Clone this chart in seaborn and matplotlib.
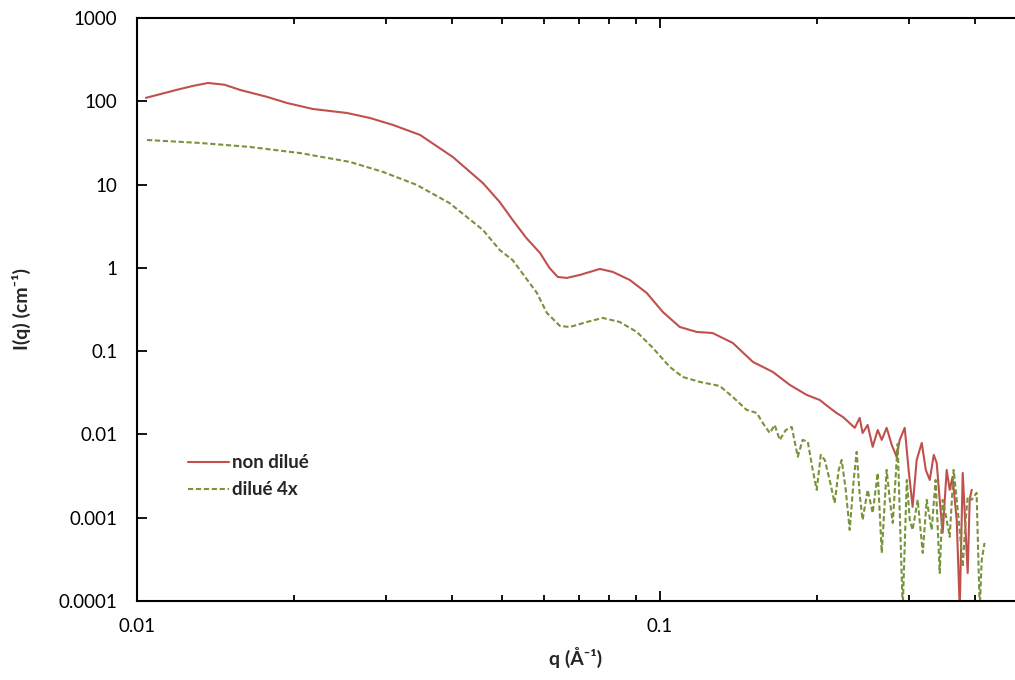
import numpy as np
import pandas as pd
import seaborn as sns
import matplotlib.pyplot as plt
from matplotlib.ticker import FixedLocator, FuncFormatter, NullLocator, NullFormatter

# non dilué (q in 1/A, I in 1/cm)
q_red = [0.0104, 0.0112, 0.0119, 0.0128, 0.01367, 0.0147, 0.01574, 0.01773, 0.01935, 0.0217,
         0.0252, 0.0279, 0.0309, 0.0348, 0.0402, 0.0459, 0.0494, 0.0523, 0.0555, 0.0590,
         0.0615, 0.0638, 0.0664, 0.0703, 0.0768, 0.0813, 0.0876, 0.0944, 0.1013, 0.1092,
         0.1177, 0.1262, 0.1379, 0.1507, 0.1645, 0.1773, 0.191, 0.2023, 0.2100, 0.2178,
         0.2240, 0.2307, 0.236, 0.2412, 0.2443, 0.2498, 0.2554, 0.2611, 0.2658, 0.2716,
         0.2777, 0.2838, 0.2877, 0.2941, 0.2992, 0.3045, 0.3100, 0.3170, 0.3227, 0.3284,
         0.3342, 0.3386, 0.3431, 0.3476, 0.3538, 0.3585, 0.3631, 0.3698, 0.3747, 0.3797,
         0.3881, 0.3915, 0.395]
I_red = [110, 124, 137, 153, 166, 158, 137, 113, 95.5, 80.8,
         72.4, 63, 51.9, 39.4, 21.4, 10.4, 6.18, 3.76, 2.3, 1.51,
         1.0, 0.778, 0.757, 0.822, 0.97, 0.894, 0.716, 0.50, 0.296, 0.195,
         0.170, 0.165, 0.1254, 0.0742, 0.0563, 0.0393, 0.0298, 0.0259, 0.0215, 0.0181,
         0.0162, 0.0137, 0.0120, 0.0158, 0.0104, 0.0130, 0.0071, 0.0113, 0.0086, 0.0120,
         0.0075, 0.0054, 0.0086, 0.0120, 0.00375, 0.00135, 0.00494, 0.0079, 0.00375, 0.00284,
         0.00568, 0.00455, 0.00164, 0.00066, 0.00375, 0.00216, 0.0031, 0.00094, 0.00008, 0.00345,
         0.000217, 0.00164, 0.00216]

# dilué 4x
q_green = [0.01045, 0.0132, 0.01644, 0.0205, 0.02555, 0.02954, 0.0343, 0.0396, 0.0459, 0.0494,
           0.0523, 0.0582, 0.0608, 0.0644, 0.0673, 0.0725, 0.0778, 0.0838, 0.0904, 0.0970,
           0.1045, 0.1106, 0.1193, 0.1302, 0.1379, 0.1466, 0.1533, 0.1574, 0.1623, 0.1659,
           0.1696, 0.1742, 0.1788, 0.1836, 0.1876, 0.1919, 0.1961, 0.1996, 0.2032, 0.2068,
           0.2113, 0.2160, 0.2199, 0.2228, 0.2268, 0.2308, 0.2349, 0.2380, 0.2412, 0.2443,
           0.2498, 0.2554, 0.2611, 0.2658, 0.2716, 0.2754, 0.2790, 0.2851, 0.2915, 0.2968,
           0.3007, 0.3045, 0.3114, 0.3184, 0.3240, 0.3311, 0.3370, 0.3431, 0.3476, 0.3538,
           0.3585, 0.3648, 0.3698, 0.3747, 0.3797, 0.3846, 0.3881, 0.3950, 0.4036, 0.4092,
           0.4128, 0.4180]
I_green = [34.3, 31.6, 28.3, 23.9, 18.7, 14.2, 9.89, 6.0, 2.85, 1.64,
           1.24, 0.50, 0.288, 0.2007, 0.195, 0.224, 0.2504, 0.224, 0.170, 0.1093,
           0.0646, 0.049, 0.0427, 0.0382, 0.0282, 0.0197, 0.0181, 0.0137, 0.0104, 0.0130,
           0.0086, 0.0113, 0.0123, 0.0054, 0.0086, 0.00817, 0.00375, 0.00216, 0.00568, 0.00494,
           0.00284, 0.0015, 0.00375, 0.00494, 0.00216, 0.000714, 0.00284, 0.00617, 0.00188, 0.00094,
           0.00216, 0.00114, 0.00345, 0.000378, 0.00375, 0.00164, 0.000866, 0.0077, 0.00008, 0.00284,
           0.00094, 0.000714, 0.00164, 0.000378, 0.00164, 0.000714, 0.00284, 0.000217, 0.00164, 0.00094,
           0.000589, 0.00375, 0.00164, 0.000714, 0.000256, 0.00094, 0.00178, 0.00164, 0.00199, 0.00008,
           0.000311, 0.000498]

labels = ['non dilué', 'dilué 4x']
colors = ['#C0504D', '#77933C']
x_ticks = [0.01, 0.1]
y_ticks = [0.0001, 0.001, 0.01, 0.1, 1, 10, 100, 1000]

df = pd.concat([
    pd.DataFrame({'q': q_red, 'I': I_red, 'sample': labels[0]}),
    pd.DataFrame({'q': q_green, 'I': I_green, 'sample': labels[1]}),
])

sns.set_style('ticks')
plt.rcParams['font.family'] = ['Lato', 'DejaVu Sans']

fig = plt.figure(figsize=(10.15, 6.8), dpi=100)
ax = fig.add_axes([137 / 1015, 1 - 601 / 680, 878 / 1015, 583 / 680])

sns.lineplot(data=df, x='q', y='I', hue='sample', style='sample',
             palette=dict(zip(labels, colors)),
             dashes={labels[0]: '', labels[1]: (2.5, 1.3)},
             estimator=None, sort=False, linewidth=1.5, ax=ax)

ax.set_xscale('log')
ax.set_yscale('log')
ax.set_xlim(0.01, 0.478)
ax.set_ylim(0.0001, 1000)

fmt = FuncFormatter(lambda v, p: f'{v:g}')
minor_x = [m * d for d in (0.01, 0.1) for m in range(2, 10) if m * d < 0.478]
ax.xaxis.set_major_locator(FixedLocator(x_ticks))
ax.xaxis.set_minor_locator(FixedLocator(minor_x))
ax.xaxis.set_major_formatter(fmt)
ax.xaxis.set_minor_formatter(NullFormatter())
ax.yaxis.set_major_locator(FixedLocator(y_ticks))
ax.yaxis.set_minor_locator(NullLocator())
ax.yaxis.set_major_formatter(fmt)

ax.tick_params(axis='x', which='both', direction='in', top=True, bottom=True,
               width=1.3, labelsize=13.5, pad=12, colors='black')
ax.tick_params(axis='x', which='major', length=7)
ax.tick_params(axis='x', which='minor', length=4)
ax.tick_params(axis='y', which='major', direction='in', length=7, width=1.3,
               labelsize=13.5, pad=14, colors='black')

for s in ['left', 'bottom', 'top']:
    ax.spines[s].set_linewidth(1.5)
    ax.spines[s].set_color('black')
ax.spines['right'].set_visible(False)

ax.set_xlabel('q (Å⁻¹)', fontsize=14, fontweight='bold', labelpad=9)
ax.set_ylabel('I(q) (cm⁻¹)', fontsize=14, fontweight='bold', labelpad=20)

ax.legend(title=None, frameon=False, loc='upper left', bbox_to_anchor=(0.047, 0.268),
          prop={'weight': 'bold', 'size': 13.5}, handlelength=2.2, handletextpad=0.15,
          borderpad=0, labelspacing=0.55)

fig.savefig('out.png', dpi=100)
